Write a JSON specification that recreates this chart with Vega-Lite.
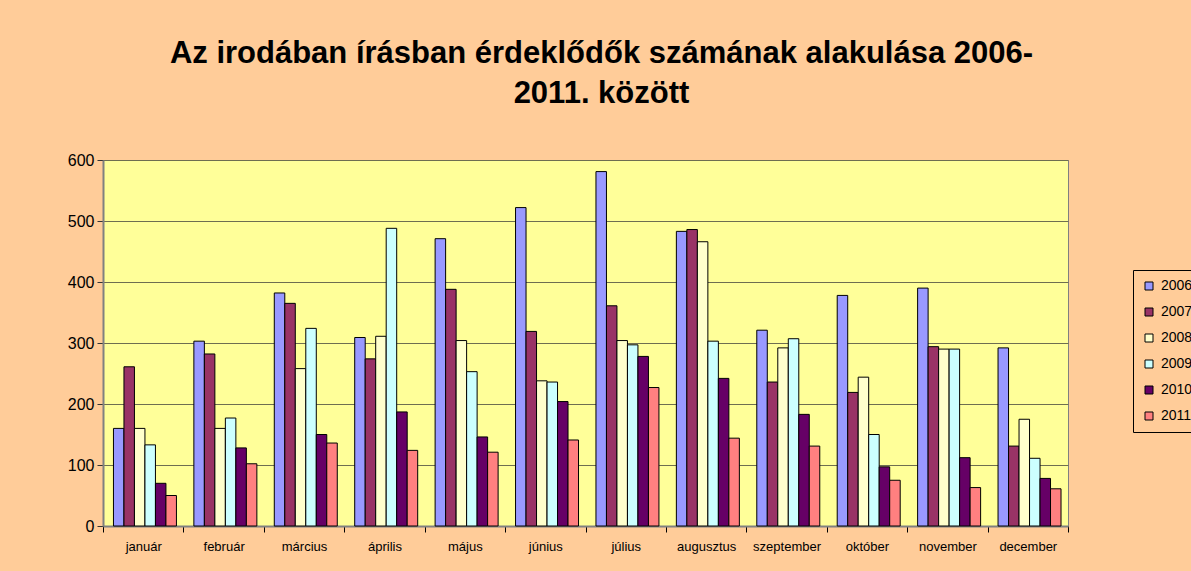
{
  "$schema": "https://vega.github.io/schema/vega-lite/v6.json",
  "autosize": "none",
  "width": 965,
  "height": 366,
  "padding": {"left": 103, "top": 160, "right": 123, "bottom": 45},
  "background": "#ffcc99",
  "title": {
    "text": ["Az irodában írásban érdeklődők számának alakulása 2006-", "2011. között"],
    "font": "Liberation Sans",
    "fontSize": 31,
    "fontWeight": "bold",
    "color": "#000000",
    "lineHeight": 40,
    "anchor": "middle",
    "frame": "group",
    "dx": 16,
    "offset": 42
  },
  "config": {
    "view": {"fill": "#ffff99", "stroke": "#808080"},
    "font": "Liberation Sans"
  },
  "data": {
    "values": [
      {"honap": "január", "ev": "2006", "ertek": 160},
      {"honap": "január", "ev": "2007", "ertek": 261},
      {"honap": "január", "ev": "2008", "ertek": 160},
      {"honap": "január", "ev": "2009", "ertek": 133},
      {"honap": "január", "ev": "2010", "ertek": 70},
      {"honap": "január", "ev": "2011", "ertek": 50},
      {"honap": "február", "ev": "2006", "ertek": 303},
      {"honap": "február", "ev": "2007", "ertek": 282},
      {"honap": "február", "ev": "2008", "ertek": 160},
      {"honap": "február", "ev": "2009", "ertek": 177},
      {"honap": "február", "ev": "2010", "ertek": 128},
      {"honap": "február", "ev": "2011", "ertek": 102},
      {"honap": "március", "ev": "2006", "ertek": 382},
      {"honap": "március", "ev": "2007", "ertek": 365},
      {"honap": "március", "ev": "2008", "ertek": 258},
      {"honap": "március", "ev": "2009", "ertek": 324},
      {"honap": "március", "ev": "2010", "ertek": 150},
      {"honap": "március", "ev": "2011", "ertek": 136},
      {"honap": "április", "ev": "2006", "ertek": 309},
      {"honap": "április", "ev": "2007", "ertek": 274},
      {"honap": "április", "ev": "2008", "ertek": 311},
      {"honap": "április", "ev": "2009", "ertek": 488},
      {"honap": "április", "ev": "2010", "ertek": 187},
      {"honap": "április", "ev": "2011", "ertek": 124},
      {"honap": "május", "ev": "2006", "ertek": 471},
      {"honap": "május", "ev": "2007", "ertek": 388},
      {"honap": "május", "ev": "2008", "ertek": 304},
      {"honap": "május", "ev": "2009", "ertek": 253},
      {"honap": "május", "ev": "2010", "ertek": 146},
      {"honap": "május", "ev": "2011", "ertek": 121},
      {"honap": "június", "ev": "2006", "ertek": 522},
      {"honap": "június", "ev": "2007", "ertek": 319},
      {"honap": "június", "ev": "2008", "ertek": 238},
      {"honap": "június", "ev": "2009", "ertek": 236},
      {"honap": "június", "ev": "2010", "ertek": 204},
      {"honap": "június", "ev": "2011", "ertek": 141},
      {"honap": "július", "ev": "2006", "ertek": 581},
      {"honap": "július", "ev": "2007", "ertek": 361},
      {"honap": "július", "ev": "2008", "ertek": 304},
      {"honap": "július", "ev": "2009", "ertek": 297},
      {"honap": "július", "ev": "2010", "ertek": 278},
      {"honap": "július", "ev": "2011", "ertek": 227},
      {"honap": "augusztus", "ev": "2006", "ertek": 483},
      {"honap": "augusztus", "ev": "2007", "ertek": 486},
      {"honap": "augusztus", "ev": "2008", "ertek": 466},
      {"honap": "augusztus", "ev": "2009", "ertek": 303},
      {"honap": "augusztus", "ev": "2010", "ertek": 242},
      {"honap": "augusztus", "ev": "2011", "ertek": 144},
      {"honap": "szeptember", "ev": "2006", "ertek": 321},
      {"honap": "szeptember", "ev": "2007", "ertek": 236},
      {"honap": "szeptember", "ev": "2008", "ertek": 292},
      {"honap": "szeptember", "ev": "2009", "ertek": 307},
      {"honap": "szeptember", "ev": "2010", "ertek": 183},
      {"honap": "szeptember", "ev": "2011", "ertek": 131},
      {"honap": "október", "ev": "2006", "ertek": 378},
      {"honap": "október", "ev": "2007", "ertek": 219},
      {"honap": "október", "ev": "2008", "ertek": 244},
      {"honap": "október", "ev": "2009", "ertek": 150},
      {"honap": "október", "ev": "2010", "ertek": 97},
      {"honap": "október", "ev": "2011", "ertek": 75},
      {"honap": "november", "ev": "2006", "ertek": 390},
      {"honap": "november", "ev": "2007", "ertek": 294},
      {"honap": "november", "ev": "2008", "ertek": 290},
      {"honap": "november", "ev": "2009", "ertek": 290},
      {"honap": "november", "ev": "2010", "ertek": 112},
      {"honap": "november", "ev": "2011", "ertek": 63},
      {"honap": "december", "ev": "2006", "ertek": 292},
      {"honap": "december", "ev": "2007", "ertek": 131},
      {"honap": "december", "ev": "2008", "ertek": 175},
      {"honap": "december", "ev": "2009", "ertek": 111},
      {"honap": "december", "ev": "2010", "ertek": 78},
      {"honap": "december", "ev": "2011", "ertek": 61}
    ]
  },
  "mark": {"type": "bar", "stroke": "#000000", "strokeWidth": 1},
  "encoding": {
    "x": {
      "field": "honap",
      "type": "nominal",
      "sort": ["január", "február", "március", "április", "május", "június", "július", "augusztus", "szeptember", "október", "november", "december"],
      "scale": {"paddingInner": 0, "paddingOuter": 0},
      "axis": {
        "title": null,
        "labelAngle": 0,
        "labelFontSize": 13,
        "labelColor": "#000000",
        "labelPadding": 8,
        "tickBand": "extent",
        "tickSize": 6,
        "tickColor": "#000000",
        "domainColor": "#808080",
        "domainWidth": 2,
        "grid": false
      }
    },
    "xOffset": {
      "field": "ev",
      "type": "nominal",
      "scale": {"paddingInner": 0, "paddingOuter": 0.83, "align": 0.6}
    },
    "y": {
      "field": "ertek",
      "type": "quantitative",
      "scale": {"domain": [0, 600]},
      "axis": {
        "title": null,
        "values": [0, 100, 200, 300, 400, 500, 600],
        "labelFontSize": 16,
        "labelColor": "#000000",
        "labelPadding": 3,
        "tickSize": 6,
        "tickColor": "#333333",
        "domainColor": "#808080",
        "domainWidth": 2,
        "grid": true,
        "gridColor": "#6e6e50",
        "gridWidth": 1.2
      }
    },
    "color": {
      "field": "ev",
      "type": "nominal",
      "scale": {
        "domain": ["2006", "2007", "2008", "2009", "2010", "2011"],
        "range": ["#9999ff", "#993366", "#ffffcc", "#ccffff", "#660066", "#ff8080"]
      },
      "legend": {
        "title": null,
        "orient": "none",
        "legendX": 1030,
        "legendY": 110,
        "symbolType": "square",
        "symbolSize": 64,
        "symbolStrokeColor": "#000000",
        "symbolStrokeWidth": 1,
        "symbolOpacity": 1,
        "labelFontSize": 14,
        "labelColor": "#000000",
        "labelOffset": 5,
        "rowPadding": 12,
        "padding": 9,
        "strokeColor": "#000000",
        "fillColor": "#ffcc99"
      }
    }
  }
}
